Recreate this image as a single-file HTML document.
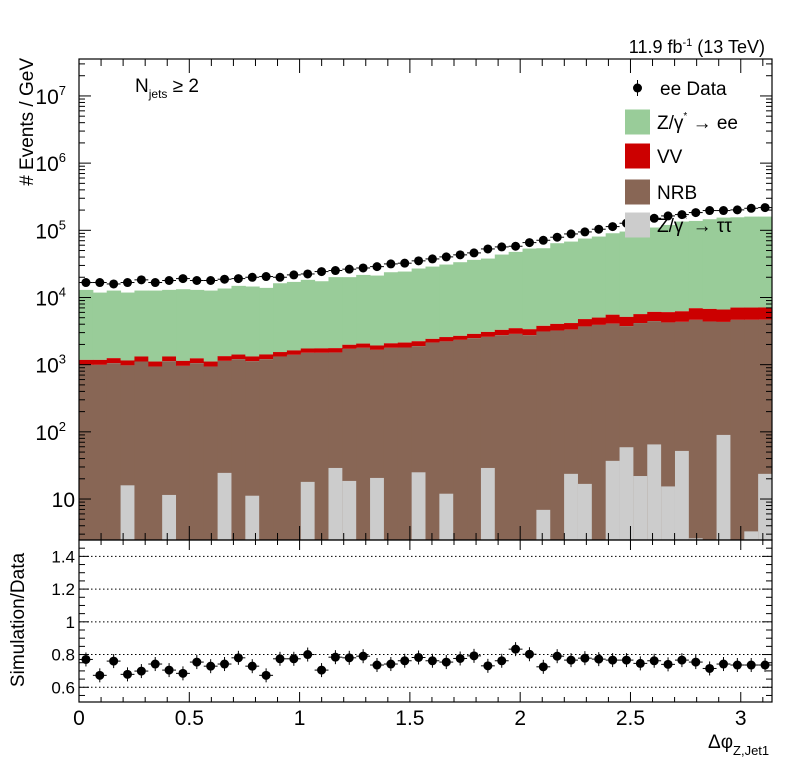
<!DOCTYPE html>
<html><head><meta charset="utf-8"><style>
body{margin:0;background:#fff;}
svg{display:block;font-family:"Liberation Sans",sans-serif;}
</style></head><body>
<svg id="c" width="796" height="772" xmlns="http://www.w3.org/2000/svg"></svg>
<script>
const nBins=50;
const dataVals=[16700,16700,15900,16700,18300,16700,17900,19100,17900,17900,18700,19100,20000,20500,20000,21700,22400,24300,25200,26400,27500,28800,31600,32400,35100,37500,40200,43100,46100,52800,56600,57900,65600,71100,78900,88300,94600,103800,113500,127400,139600,151000,163700,171400,183600,196800,196800,201400,212800,217800];
const zeeVals=[11790,10650,11430,10690,11360,11570,11660,12140,11730,11570,12270,13480,13240,12480,14750,15430,16560,15710,18320,18090,19620,19270,21690,22190,24770,26420,28340,30820,33440,34890,40250,44260,50090,50300,60220,63780,70590,75700,84850,90640,99310,103860,114160,128720,131080,139440,147970,149220,152920,152920];
const nrbVals=[993,993,1050,959,1114,938,1114,959,1052,938,1114,1205,1114,1205,1321,1400,1483,1500,1483,1700,1780,1640,1780,1800,1862,2133,2208,2339,2477,2564,2742,2871,2742,3112,3221,3296,3690,3908,4046,3690,4140,4385,4236,4285,4645,4385,4236,4645,4645,4645];
const vvVals=[185,185,200,180,210,175,200,180,190,175,200,210,200,215,220,230,240,250,250,260,280,270,300,333,346,288,356,346,394,477,554,620,631,664,825,844,1063,1115,1462,1392,1496,1654,1803,1895,2273,2376,2295,2434,2434,2434];
const zttVals=[0,0,0,16,0,0,11.5,0,0,0,24.5,0,11.2,0,0,0,18,0,29,18.6,0,20.6,0,0,25,0,12,0,0,29,0,0,0,6.9,0,23.7,16.8,0,37,59,22,65,15.4,52,2.6,0,90,0,3.3,23.7];
const ratioVals=[0.770,0.673,0.760,0.679,0.699,0.742,0.705,0.685,0.754,0.729,0.742,0.780,0.729,0.673,0.774,0.774,0.800,0.705,0.784,0.780,0.790,0.736,0.742,0.762,0.782,0.762,0.754,0.776,0.792,0.731,0.762,0.833,0.802,0.725,0.790,0.766,0.778,0.772,0.766,0.766,0.746,0.762,0.740,0.766,0.754,0.715,0.742,0.736,0.736,0.736];
const xTicks=[0,0.5,1,1.5,2,2.5,3];
const xTickLabels=["0","0.5","1","1.5","2","2.5","3"];
const yDecades=[1,2,3,4,5,6,7];
const ratioTicks=[0.6,0.8,1.0,1.2,1.4];
const ratioTickLabels=["0.6","0.8","1","1.2","1.4"];

const NS="http://www.w3.org/2000/svg";
const svg=document.getElementById('c');
const L=79,R=772,T=59,B=540,RT=540,RB=702;
const XMAX=Math.PI, LOGMIN=0.39, LOGMAX=7.55, RMIN=0.51, RMAX=1.5;
const xs=v=>L+(v/XMAX)*(R-L);
const ys=v=>B-(Math.log10(Math.max(v,1e-3))-LOGMIN)/(LOGMAX-LOGMIN)*(B-T);
const yr=v=>RB-(v-RMIN)/(RMAX-RMIN)*(RB-RT);
const bw=XMAX/nBins;
function mk(tag,attrs,parent){const e=document.createElementNS(NS,tag);for(const k in attrs)e.setAttribute(k,attrs[k]);(parent||svg).appendChild(e);return e;}

// clip
const defs=mk('defs',{});
const cp=mk('clipPath',{id:'up'},defs);mk('rect',{x:L,y:T,width:R-L,height:B-T},cp);
const gUp=mk('g',{'clip-path':'url(#up)'});



for(let i=0;i<nBins;i++){
  const x0=xs(i*bw),x1=xs((i+1)*bw);
  const nrbTop=zttVals[i]+nrbVals[i], vvTop=nrbTop+vvVals[i], zeeTop=vvTop+zeeVals[i];
  let r=mk('rect',{x:x0,y:ys(zeeTop),width:x1-x0+0.5,height:ys(vvTop)-ys(zeeTop),fill:'#99cc99'},gUp);
  
  
  r=mk('rect',{x:x0,y:ys(vvTop),width:x1-x0+0.5,height:ys(nrbTop)-ys(vvTop),fill:'#cc0000'},gUp);
  
  
  r=mk('rect',{x:x0,y:ys(nrbTop),width:x1-x0+0.5,height:B-ys(nrbTop)+2,fill:'#886655'},gUp);
  
  
}
for(let i=0;i<nBins;i++){
  if(zttVals[i]<=0)continue;
  const x0=xs(i*bw),x1=xs((i+1)*bw);
  const r=mk('rect',{x:x0,y:ys(zttVals[i]),width:x1-x0,height:B-ys(zttVals[i])+2,fill:'#cccccc'},gUp);
  
  
}
// data points
for(let i=0;i<nBins;i++){
  const x0=xs(i*bw),x1=xs((i+1)*bw),xc=(x0+x1)/2,y=ys(dataVals[i]);
  const g=mk('g',{},svg);
  
  
  mk('line',{x1:x0,x2:x1,y1:y,y2:y,stroke:'#000','stroke-width':1},g);
  mk('circle',{cx:xc,cy:y,r:4.5,fill:'#000'},g);
}
// legend
const leg=mk('g',{});


const legItems=[['#99cc99','Z/γ* → ee',122],['#cc0000','VV',156],['#886655','NRB',192],['#cccccc','Z/γ* → ττ',225]];
{const g=mk('g',{},leg);
 mk('line',{x1:637.5,x2:637.5,y1:80,y2:96,stroke:'#000'},g);mk('circle',{cx:637.5,cy:88,r:4.5,fill:'#000'},g);
 const t=mk('text',{x:660,y:95,'font-size':19},g);t.textContent='ee Data';}
legItems.forEach((it,k)=>{const g=mk('g',{},leg);
 
 
 mk('rect',{x:625,y:it[2]-12.5,width:25,height:25,fill:it[0]},g);
 const t=mk('text',{x:657,y:it[2]+7,'font-size':19},g);
 if(it[1].indexOf('γ*')>=0){const parts=it[1].split('γ*');
   const a=mk('tspan',{},t);a.textContent=parts[0]+'γ';
   const s=mk('tspan',{dy:-10,'font-size':10},t);s.textContent='*';
   const b=mk('tspan',{dy:10},t);b.textContent=' '+parts[1];
 } else t.textContent=' '+it[1];
});

// upper frame & ticks
let fr=mk('rect',{x:L,y:T,width:R-L,height:B-T,fill:'none',stroke:'#000','stroke-width':1.2});

const tk=mk('g',{stroke:'#000','stroke-width':1});
for(let d=0;d<=7;d++){for(let m=1;m<10;m++){const v=m*Math.pow(10,d);const y=ys(v);if(y<T||y>B)continue;const len=m===1?12:6;
 mk('line',{x1:L,x2:L+len,y1:y,y2:y},tk);mk('line',{x1:R,x2:R-len,y1:y,y2:y},tk);}}
for(let v=0;v<=3.14;v+=0.1){const x=xs(v);const major=Math.abs(v/0.5-Math.round(v/0.5))<1e-6;const len=major?14:7;
 mk('line',{x1:x,x2:x,y1:B,y2:B-len},tk);mk('line',{x1:x,x2:x,y1:T,y2:T+len},tk);
 mk('line',{x1:x,x2:x,y1:RB,y2:RB-(major?10:5)},tk);mk('line',{x1:x,x2:x,y1:RT,y2:RT+(major?10:5)},tk);}
yDecades.forEach(d=>{const y=ys(Math.pow(10,d));const t=mk('text',{x:d===1?75:66,y:y+8,'font-size':21,'text-anchor':'end'});
 
 if(d===1)t.textContent='10';else{const a=mk('tspan',{},t);a.textContent='10';const s=mk('tspan',{dy:-9,'font-size':13},t);s.textContent=String(d);}});

// ratio panel
fr=mk('rect',{x:L,y:RT,width:R-L,height:RB-RT,fill:'none',stroke:'#000','stroke-width':1.2});

ratioTicks.forEach((v,k)=>{const y=yr(v);
 const gl=mk('line',{x1:L,x2:R,y1:y,y2:y,stroke:'#000','stroke-dasharray':'1.5,2.5','stroke-width':1});
 
 const t=mk('text',{x:75,y:y+6,'font-size':17,'text-anchor':'end'});t.textContent=ratioTickLabels[k];
 });
for(let v=0.55;v<=1.5;v+=0.05){const y=yr(v);const major=Math.abs(v*10/2-Math.round(v*10/2))<1e-6;const len=major?10:6;
 mk('line',{x1:L,x2:L+len,y1:y,y2:y},tk);mk('line',{x1:R,x2:R-len,y1:y,y2:y},tk);}
for(let i=0;i<nBins;i++){const x0=xs(i*bw),x1=xs((i+1)*bw),xc=(x0+x1)/2,y=yr(ratioVals[i]);
 const g=mk('g',{});
 mk('line',{x1:x0,x2:x1,y1:y,y2:y,stroke:'#000'},g);mk('line',{x1:xc,x2:xc,y1:y-7,y2:y+7,stroke:'#000'},g);
 mk('circle',{cx:xc,cy:y,r:4.5,fill:'#000'},g);}
xTicks.forEach((v,k)=>{const t=mk('text',{x:xs(v),y:725,'font-size':21,'text-anchor':'middle'});t.textContent=xTickLabels[k];
 });

// titles
let t=mk('text',{x:0,y:0,'font-size':19,'text-anchor':'end',transform:'translate(33,58) rotate(-90)'});t.textContent='# Events / GeV';

t=mk('text',{x:0,y:0,'font-size':19,'text-anchor':'middle',transform:'translate(24,620) rotate(-90)'});t.textContent='Simulation/Data';

t=mk('text',{x:708,y:748,'font-size':19});

{const a=mk('tspan',{},t);a.textContent='Δφ';const s=mk('tspan',{dy:7,'font-size':13},t);s.textContent='Z,Jet1';}
t=mk('text',{x:765,y:53,'font-size':18,'text-anchor':'end'});

{const a=mk('tspan',{},t);a.textContent='11.9 fb';const s=mk('tspan',{dy:-7,'font-size':11},t);s.textContent='-1';const b=mk('tspan',{dy:7},t);b.textContent=' (13 TeV)';}
t=mk('text',{x:135,y:92,'font-size':19});

{const a=mk('tspan',{},t);a.textContent='N';const s=mk('tspan',{dy:6,'font-size':12},t);s.textContent='jets';const b=mk('tspan',{dy:-6},t);b.textContent=' ≥ 2';}
</script>
</body></html>
